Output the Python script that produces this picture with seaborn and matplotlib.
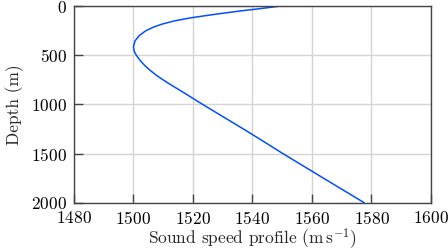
import pandas as pd
import matplotlib
matplotlib.use("Agg")
import matplotlib.pyplot as plt
import seaborn as sns

# values
depth = [0, 20, 45, 70, 95, 120, 150, 180, 210, 250, 300, 350, 410, 460,
         500, 550, 600, 650, 700, 750, 800, 850, 900, 940, 1000, 1130,
         1260, 1380, 1500, 1750, 2000]
speed = [1548.7, 1543.6, 1536.6, 1530.2, 1524.3, 1518.8, 1513.6, 1509.8,
         1506.9, 1504.1, 1501.9, 1500.6, 1500.0, 1500.3, 1501.0, 1502.2,
         1503.7, 1505.5, 1507.6, 1510.0, 1512.6, 1515.3, 1518.0, 1520.1,
         1523.3, 1530.4, 1537.5, 1543.9, 1550.2, 1563.8, 1577.5]

x_ticks = [1480, 1500, 1520, 1540, 1560, 1580, 1600]
y_ticks = [0, 500, 1000, 1500, 2000]

df = pd.DataFrame({"speed": speed, "depth": depth})

sns.set_style("whitegrid")
plt.rcParams["font.family"] = ["cmr10", "DejaVu Serif"]
plt.rcParams["mathtext.fontset"] = "cm"
plt.rcParams["axes.formatter.use_mathtext"] = True
plt.rcParams["axes.unicode_minus"] = False

fig = plt.figure(figsize=(4.48, 2.52), dpi=100)
ax = fig.add_axes([0.165, 0.196, 0.797, 0.779])

sns.lineplot(data=df, x="speed", y="depth", sort=False, estimator=None,
             color="#0050ff", linewidth=1.1, ax=ax)

ax.set_xlim(1480, 1600)
ax.set_ylim(2000, 0)
ax.set_xticks(x_ticks)
ax.set_yticks(y_ticks)
ax.grid(True, color="#d4d4d4", linewidth=1.0)
for s in ax.spines.values():
    s.set_color("#444444")
    s.set_linewidth(1.0)
ax.tick_params(axis="both", direction="in", length=6.5, width=1.0,
               color="#444444", labelsize=12.5, labelcolor="black", pad=5)
ax.tick_params(top=False, right=False, bottom=True, left=True)

ax.set_xlabel(r"Sound speed profile $(\mathrm{m\,s^{-1}})$", fontsize=12.5, labelpad=0)
ax.set_ylabel("Depth (m)", fontsize=12.5, labelpad=5)

fig.savefig("out.png", dpi=100)
